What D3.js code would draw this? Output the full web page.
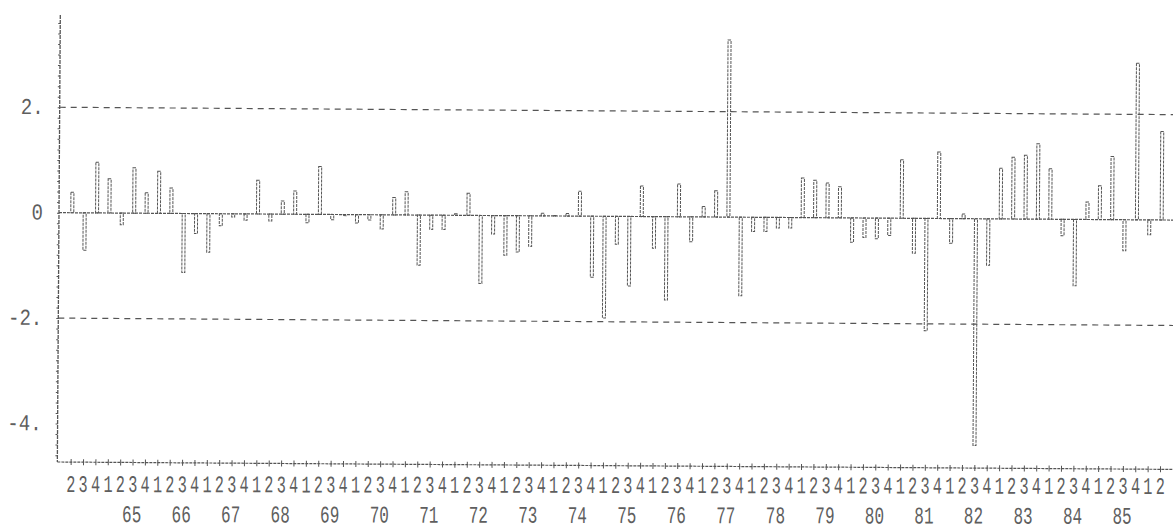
<!DOCTYPE html>
<html>
<head>
<meta charset="utf-8">
<script src="https://cdn.jsdelivr.net/npm/d3@7"></script>
<style>
  html, body { margin: 0; padding: 0; background: #fff; }
  svg { display: block; }
  text { font-family: "Liberation Mono", "DejaVu Sans Mono", monospace; fill: #5e5e5e; }
</style>
</head>
<body>
<svg id="chart" width="1173" height="531"></svg>
<script>
(function () {
// Quarterly series, 1964 Q2 .. 1986 Q2
const startYear = 1964;
const startQuarter = 2;
const values = [
  0.39, -0.71, 0.96,
  0.65, -0.22, 0.86, 0.39,
  0.80, 0.48, -1.12, -0.38,
  -0.73, -0.23, -0.06, -0.12,
  0.64, -0.13, 0.25, 0.44,
  -0.16, 0.91, -0.10, -0.02,
  -0.16, -0.10, -0.27, 0.33,
  0.44, -0.95, -0.27, -0.27,
  0.03, 0.42, -1.29, -0.35,
  -0.75, -0.69, -0.58, 0.05,
  0.01, 0.05, 0.47, -1.16,
  -1.93, -0.53, -1.32, 0.58,
  -0.60, -1.58, 0.62, -0.47,
  0.20, 0.50, 3.36, -1.49,
  -0.27, -0.27, -0.20, -0.20,
  0.75, 0.71, 0.66, 0.59,
  -0.46, -0.37, -0.39, -0.33,
  1.11, -0.66, -2.13, 1.26,
  -0.47, 0.09, -4.30, -0.88,
  0.96, 1.17, 1.21, 1.43,
  0.96, -0.31, -1.26, 0.33,
  0.64, 1.20, -0.59, 2.97,
  -0.28, 1.68
];
const yTickValues = [2, 0, -2, -4];
const yTickLabels = ["2.", "0", "-2.", "-4."];
const gridValues = [2, -2];

// Build quarter records
const quarters = values.map((v, i) => {
  const q0 = startQuarter - 1 + i;
  return { key: "q" + i, year: startYear + Math.floor(q0 / 4), q: (q0 % 4) + 1, value: v };
});
const years = Array.from(new Set(quarters.map(d => d.year))).filter(y => y >= 1965 && y <= 1985);

const axisX = 59, plotRight = 1180, plotTop = 15, plotBottom = 462;
const ink = "#555";

const root = d3.select("#chart");
// the scanned original is slightly rotated clockwise
const svg = root.append("g")
  .attr("transform", `rotate(0.38, ${axisX}, 212)`);

const x = d3.scalePoint().domain(quarters.map(d => d.key)).range([72.3, 1161.7]);
const y = d3.scaleLinear().domain([-4.73, 3.75]).range([plotBottom, plotTop]);

// Gridlines at +/-2
svg.append("g").selectAll("line").data(gridValues).join("line")
  .attr("x1", axisX).attr("x2", plotRight)
  .attr("y1", d => y(d)).attr("y2", d => y(d))
  .attr("stroke", ink).attr("stroke-width", 1.2).attr("stroke-dasharray", "6,5");

// Zero line
svg.append("line")
  .attr("x1", axisX).attr("x2", plotRight)
  .attr("y1", y(0)).attr("y2", y(0))
  .attr("stroke", ink).attr("stroke-width", 1.2).attr("stroke-dasharray", "3,1");

// Bars
const bw = 3;
svg.append("g").selectAll("rect").data(quarters).join("rect")
  .attr("x", d => x(d.key) - bw / 2)
  .attr("width", bw)
  .attr("y", d => Math.min(y(d.value), y(0)))
  .attr("height", d => Math.abs(y(d.value) - y(0)))
  .attr("fill", "none")
  .attr("stroke", ink).attr("stroke-width", 1)
  .attr("stroke-dasharray", "3,1");

// Left axis
const yAxis = d3.axisLeft(y).tickValues(d3.range(-4.6, 3.8, 0.2)).tickSize(2).tickFormat("");
const gy = svg.append("g").attr("transform", `translate(${axisX},0)`).call(yAxis);
gy.select(".domain").remove();
gy.selectAll(".tick line").attr("stroke", ink);
svg.append("line").attr("x1", axisX).attr("x2", axisX).attr("y1", plotTop).attr("y2", plotBottom)
  .attr("stroke", ink).attr("stroke-width", 1.3).attr("stroke-dasharray", "4,1");

// Y labels
svg.append("g").selectAll("text").data(yTickValues).join("text")
  .attr("transform", (d) => `translate(43,${y(d) + 7}) scale(1,1.2)`)
  .attr("text-anchor", "end")
  .attr("font-size", 19)
  .text((d, i) => yTickLabels[i]);

// Bottom axis with quarter ticks
const xAxis = d3.axisBottom(x).tickSize(4).tickFormat("");
const gx = svg.append("g").attr("transform", `translate(0,${plotBottom})`).call(xAxis);
gx.select(".domain").remove();
gx.selectAll(".tick line").attr("stroke", ink).attr("y1", -3).attr("y2", 3);
svg.append("line").attr("x1", axisX).attr("x2", plotRight).attr("y1", plotBottom).attr("y2", plotBottom)
  .attr("stroke", ink).attr("stroke-width", 1.2).attr("stroke-dasharray", "3,1");

// Quarter digits (labels row, almost level)
const labels = root.append("g").attr("transform", "rotate(0.1, 59, 494)");
labels.append("g").selectAll("text").data(quarters).join("text")
  .attr("transform", d => `translate(${x(d.key) - 1.5},492) scale(0.95,1.5)`)
  .attr("text-anchor", "middle")
  .attr("font-size", 16)
  .text(d => d.q);

// Year labels (two-digit), centred near Q3
labels.append("g").selectAll("text").data(years).join("text")
  .attr("transform", yr => {
    const d = quarters.find(e => e.year === yr && e.q === 3);
    return `translate(${x(d.key) - 2.5},522) scale(1,1.5)`;
  })
  .attr("text-anchor", "middle")
  .attr("font-size", 16)
  .text(yr => String(yr).slice(2));
})();
</script>
</body>
</html>
